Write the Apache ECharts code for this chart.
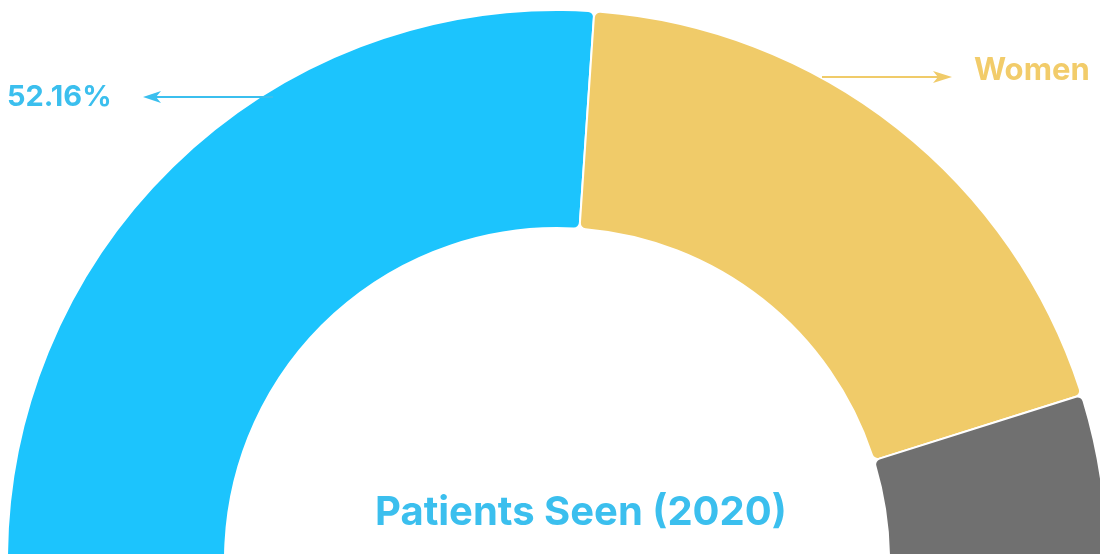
<!DOCTYPE html>
<html>
<head>
<meta charset="utf-8">
<script src="https://cdn.jsdelivr.net/npm/echarts@6/dist/echarts.min.js"></script>
<style>
html,body{margin:0;padding:0;background:#fff;}
#chart{width:1100px;height:554px;}
</style>
</head>
<body>
<div id="chart"></div>
<script>
const categories = ['Men', 'Women', 'Other'];
const values = [52.16, 38.14, 9.70];
const labelTexts = ['52.16%', 'Women', ''];
const colors = ['#1CC4FD', '#F0CB69', '#707070'];
const labelColors = ['#3BBFEE', '#F2CC6A', '#707070'];
const titleText = 'Patients Seen (2020)';

const labelPos = [
  { x: 7, y: 97, size: 29 },
  { x: 974, y: 71, size: 31 },
  null
];

const chart = echarts.init(document.getElementById('chart'));
const data = categories.map((c, i) => ({
  name: c,
  value: values[i],
  itemStyle: { color: colors[i] },
  label: {
    show: labelTexts[i] !== '',
    color: labelColors[i],
    fontSize: labelPos[i] ? labelPos[i].size : 29,
    formatter: labelTexts[i]
  }
}));

const font = 'Inter, "Noto Sans", sans-serif';

chart.setOption({
  animation: false,
  title: {
    text: titleText,
    left: 370,
    top: 488,
    textStyle: { color: '#3BBFEE', fontSize: 40, fontWeight: 'bold', fontFamily: font }
  },
  graphic: [
    { type: 'line', shape: { x1: 273, y1: 97, x2: 152, y2: 97 }, style: { stroke: '#3BBFEE', lineWidth: 2 }, z: 10 },
    { type: 'polygon', shape: { points: [[143, 97], [161, 91], [156, 97], [161, 103]] }, style: { fill: '#3BBFEE' }, z: 10 },
    { type: 'line', shape: { x1: 822, y1: 77, x2: 942, y2: 77 }, style: { stroke: '#F0CB69', lineWidth: 2 }, z: 10 },
    { type: 'polygon', shape: { points: [[952, 77], [933, 71], [938, 77], [933, 83]] }, style: { fill: '#F0CB69' }, z: 10 }
  ],
  series: [{
    type: 'pie',
    center: [557, 560],
    radius: [332, 550],
    startAngle: 180,
    endAngle: 0,
    clockwise: true,
    silent: true,
    itemStyle: { borderColor: '#fff', borderWidth: 2, borderRadius: 6 },
    label: {
      position: 'outside',
      fontSize: 29,
      fontWeight: 'bold',
      fontFamily: font
    },
    labelLine: { show: false },
    labelLayout: function (params) {
      const p = labelPos[params.dataIndex];
      if (!p) return {};
      return { x: p.x, y: p.y, align: 'left', verticalAlign: 'middle' };
    },
    data: data
  }]
});
</script>
</body>
</html>
